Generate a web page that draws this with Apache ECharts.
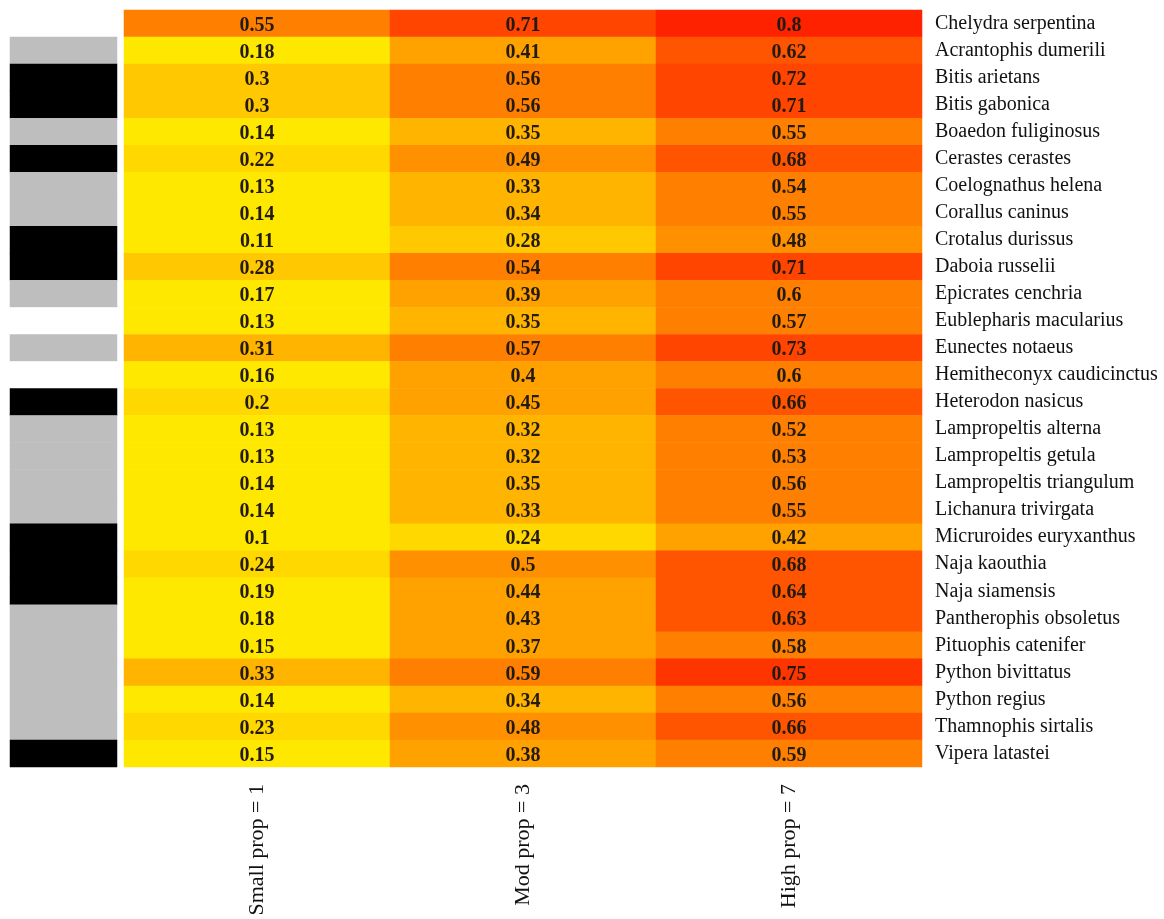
<!DOCTYPE html>
<html>
<head>
<meta charset="utf-8">
<script src="https://cdn.jsdelivr.net/npm/echarts@6/dist/echarts.min.js"></script>
<style>
  html, body { margin: 0; padding: 0; background: #ffffff; }
  #chart { width: 1164px; height: 919px; }
</style>
</head>
<body>
<div id="chart"></div>
<script>
// Species (rows, top to bottom)
const species = [
  'Chelydra serpentina', 'Acrantophis dumerili', 'Bitis arietans', 'Bitis gabonica',
  'Boaedon fuliginosus', 'Cerastes cerastes', 'Coelognathus helena', 'Corallus caninus',
  'Crotalus durissus', 'Daboia russelii', 'Epicrates cenchria', 'Eublepharis macularius',
  'Eunectes notaeus', 'Hemitheconyx caudicinctus', 'Heterodon nasicus', 'Lampropeltis alterna',
  'Lampropeltis getula', 'Lampropeltis triangulum', 'Lichanura trivirgata', 'Micruroides euryxanthus',
  'Naja kaouthia', 'Naja siamensis', 'Pantherophis obsoletus', 'Pituophis catenifer',
  'Python bivittatus', 'Python regius', 'Thamnophis sirtalis', 'Vipera latastei'
];

// Columns
const columns = ['Small prop = 1', 'Mod prop = 3', 'High prop = 7'];

// Values per column
const smallProp = [0.55, 0.18, 0.3, 0.3, 0.14, 0.22, 0.13, 0.14, 0.11, 0.28, 0.17, 0.13, 0.31, 0.16,
                   0.2, 0.13, 0.13, 0.14, 0.14, 0.1, 0.24, 0.19, 0.18, 0.15, 0.33, 0.14, 0.23, 0.15];
const modProp   = [0.71, 0.41, 0.56, 0.56, 0.35, 0.49, 0.33, 0.34, 0.28, 0.54, 0.39, 0.35, 0.57, 0.4,
                   0.45, 0.32, 0.32, 0.35, 0.33, 0.24, 0.5, 0.44, 0.43, 0.37, 0.59, 0.34, 0.48, 0.38];
const highProp  = [0.8, 0.62, 0.72, 0.71, 0.55, 0.68, 0.54, 0.55, 0.48, 0.71, 0.6, 0.57, 0.73, 0.6,
                   0.66, 0.52, 0.53, 0.56, 0.55, 0.42, 0.68, 0.64, 0.63, 0.58, 0.75, 0.56, 0.66, 0.59];

// Side annotation per species: 0 = none, 1 = grey, 2 = black
const groupCode = [0, 1, 2, 2, 1, 2, 1, 1, 2, 2, 1, 0, 1, 0, 2, 1, 1, 1, 1, 2, 2, 2, 1, 1, 1, 1, 1, 2];

const valueCols = [smallProp, modProp, highProp];
const heatData = [];
valueCols.forEach((col, ci) => {
  col.forEach((v, ri) => heatData.push([ci, ri, v]));
});
const sideData = groupCode.map((g, ri) => [0, ri, g]);

const serif = '"Liberation Serif", "DejaVu Serif", serif';

const chart = echarts.init(document.getElementById('chart'), null, { renderer: 'canvas' });
chart.setOption({
  backgroundColor: '#ffffff',
  animation: false,
  grid: [
    { left: 10, width: 107, top: 10, height: 757 },
    { left: 124, width: 798, top: 10, height: 757 }
  ],
  xAxis: [
    { gridIndex: 0, type: 'category', data: ['group'], show: false },
    {
      gridIndex: 1, type: 'category', data: columns, position: 'bottom',
      axisLine: { show: false }, axisTick: { show: false }, splitLine: { show: false },
      axisLabel: { rotate: 90, margin: 17, color: '#111', fontFamily: serif, fontSize: 22 }
    }
  ],
  yAxis: [
    { gridIndex: 0, type: 'category', data: species, inverse: true, show: false },
    {
      gridIndex: 1, type: 'category', data: species, inverse: true, position: 'right',
      axisLine: { show: false }, axisTick: { show: false }, splitLine: { show: false },
      axisLabel: {
        margin: 13, color: '#111', fontFamily: serif, fontSize: 20, align: 'left',
        padding: [4, 0, 0, 0]
      }
    }
  ],
  visualMap: [
    {
      type: 'piecewise', show: false, seriesIndex: 1, dimension: 2,
      pieces: [
        { lt: 0.2, color: '#FFE800' },
        { gte: 0.2, lt: 0.26, color: '#FFD800' },
        { gte: 0.26, lt: 0.305, color: '#FFC800' },
        { gte: 0.305, lt: 0.36, color: '#FFB400' },
        { gte: 0.36, lt: 0.455, color: '#FFA200' },
        { gte: 0.455, lt: 0.515, color: '#FF9000' },
        { gte: 0.515, lt: 0.615, color: '#FF8000' },
        { gte: 0.615, lt: 0.695, color: '#FF5400' },
        { gte: 0.695, lt: 0.74, color: '#FF4500' },
        { gte: 0.74, lt: 0.78, color: '#FF3500' },
        { gte: 0.78, color: '#FF2200' }
      ]
    },
    {
      type: 'piecewise', show: false, seriesIndex: 0, dimension: 2,
      pieces: [
        { value: 0, color: '#FFFFFF' },
        { value: 1, color: '#BEBEBE' },
        { value: 2, color: '#000000' }
      ]
    }
  ],
  series: [
    {
      type: 'heatmap', xAxisIndex: 0, yAxisIndex: 0, data: sideData,
      label: { show: false }, emphasis: { disabled: true }, silent: true
    },
    {
      type: 'heatmap', xAxisIndex: 1, yAxisIndex: 1, data: heatData,
      label: {
        show: true, fontFamily: serif, fontWeight: 'bold', fontSize: 20, color: '#231a12',
        offset: [0, 2],
        formatter: p => String(p.value[2])
      },
      emphasis: { disabled: true }, silent: true
    }
  ]
});
</script>
</body>
</html>
